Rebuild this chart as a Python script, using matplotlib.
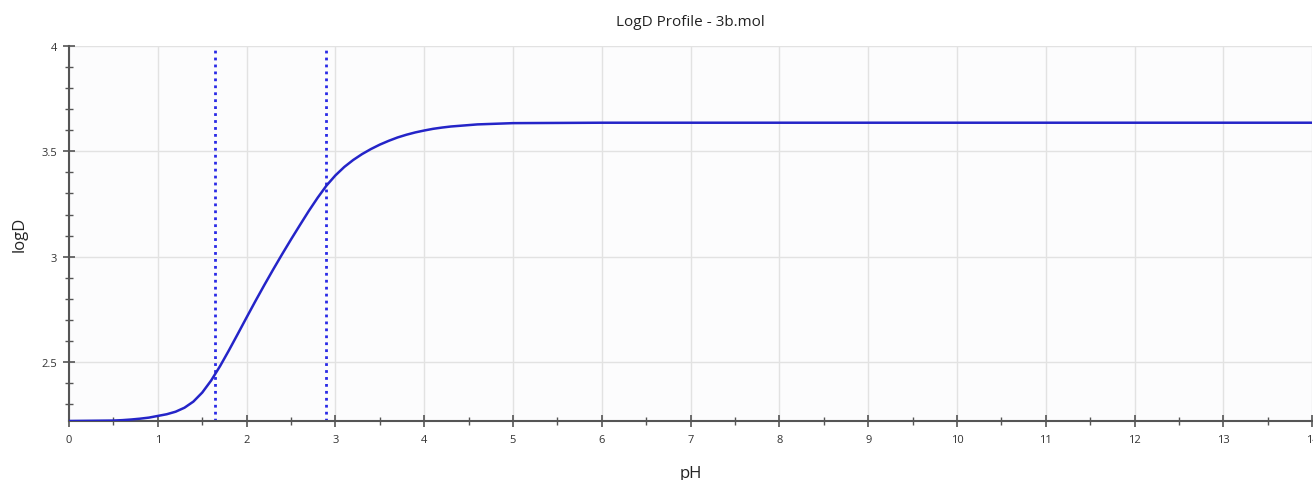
import numpy as np
from matplotlib import pyplot as plt
from matplotlib.ticker import MultipleLocator

plt.rcParams['font.family'] = ['Open Sans', 'DejaVu Sans']

# values
ph = [0.0, 0.5, 0.6, 0.7, 0.8, 0.9, 1.0, 1.1, 1.2, 1.3, 1.4, 1.5, 1.6,
      1.7, 1.8, 1.9, 2.0, 2.1, 2.2, 2.3, 2.4, 2.5, 2.6, 2.7, 2.8, 2.9,
      3.0, 3.1, 3.2, 3.3, 3.4, 3.5, 3.6, 3.7, 3.8, 3.9, 4.0, 4.1, 4.2,
      4.3, 4.6, 5.0, 6.0, 14.0]
logd = [2.220, 2.222, 2.224, 2.227, 2.231, 2.236, 2.244, 2.252, 2.264,
        2.283, 2.312, 2.355, 2.412, 2.480, 2.555, 2.633, 2.712, 2.790,
        2.866, 2.940, 3.012, 3.082, 3.150, 3.217, 3.280, 3.338, 3.386,
        3.426, 3.459, 3.487, 3.511, 3.532, 3.550, 3.566, 3.579, 3.590,
        3.599, 3.607, 3.613, 3.618, 3.628, 3.634, 3.636, 3.636]
pka_lines = [1.645, 2.895]

line_col = '#2424c8'
axis_col = '#555555'

fig = plt.figure(figsize=(13.13, 4.81), dpi=100)
ax = fig.add_axes([0.0526, 0.1227, 0.9467, 0.7795])
ax.set_facecolor('#fcfcfd')

ax.plot(ph, logd, color=line_col, lw=1.8, zorder=3)
for x in pka_lines:
    ax.axvline(x, color='#2a2ae6', lw=2, linestyle=(0, (1, 1.5)), zorder=2)

ax.set_xlim(0, 14)
ax.set_ylim(2.22, 4)
ax.xaxis.set_minor_locator(MultipleLocator(0.5))
ax.yaxis.set_minor_locator(MultipleLocator(0.1))
ax.set_xticks(range(15))
ax.set_xticklabels([str(i) for i in range(15)])
ax.set_yticks([2.5, 3, 3.5, 4])
ax.set_yticklabels(['2.5', '3', '3.5', '4'])

ax.grid(True, which='major', color='#e2e2e2', lw=1, zorder=0)
for s in ['top', 'right']:
    ax.spines[s].set_visible(False)
for s in ['left', 'bottom']:
    ax.spines[s].set_color(axis_col)
    ax.spines[s].set_linewidth(1.5)

ax.tick_params(which='major', direction='inout', length=9, width=1.2,
               color=axis_col, labelsize=8, labelcolor='#333333')
ax.tick_params(which='minor', direction='inout', length=6, width=1.0,
               color=axis_col)
ax.tick_params(axis='x', which='major', pad=5)
ax.tick_params(axis='y', which='major', pad=4)

ax.set_title('LogD Profile - 3b.mol', fontsize=11, color='#222222', pad=15)
ax.set_xlabel('pH', fontsize=12, color='#222222', labelpad=14)
ax.set_ylabel('logD', fontsize=12, color='#222222', labelpad=10)

fig.savefig('out.png', dpi=100)
